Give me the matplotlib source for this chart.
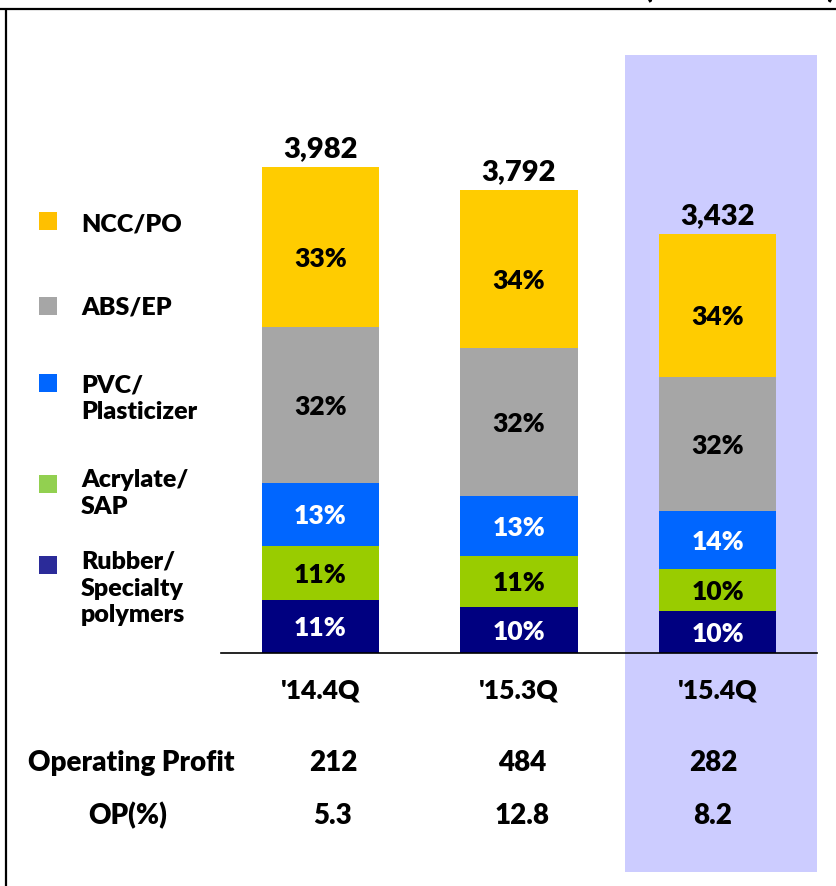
import matplotlib
matplotlib.use('Agg')
import matplotlib.pyplot as plt
import matplotlib.transforms as mtransforms
from matplotlib.patches import Rectangle

W, H = 837, 886

plt.rcParams['font.family'] = ['Lato', 'DejaVu Sans']
plt.rcParams['font.weight'] = 'heavy'

# data
quarters = ["'14.4Q", "'15.3Q", "'15.4Q"]
sales = [3982, 3792, 3432]
segments = ['Rubber/\nSpecialty\npolymers', 'Acrylate/\nSAP', 'PVC/\nPlasticizer', 'ABS/EP', 'NCC/PO']
share_rubber = [11, 10, 10]
share_acrylate = [11, 11, 10]
share_pvc = [13, 13, 14]
share_abs = [32, 32, 32]
share_ncc = [33, 34, 34]
shares = [share_rubber, share_acrylate, share_pvc, share_abs, share_ncc]
op_profit = [212, 484, 282]
op_margin = [5.3, 12.8, 8.2]

bar_colors = ['#000080', '#99CC00', '#0066FF', '#A6A6A6', '#FFCC00']
legend_colors = ['#2B2B99', '#92D050', '#0066FF', '#A6A6A6', '#FFC000']
label_colors = ['white', 'black', 'white', 'black', 'black']


def px_rect(left, top, right, bottom):
    """Axes rect in figure fractions from pixel box (origin top-left)."""
    return [left / W, 1 - bottom / H, (right - left) / W, (bottom - top) / H]


fig = plt.figure(figsize=(W / 100, H / 100), dpi=100)

# background layer in pixel coords
bg = fig.add_axes([0, 0, 1, 1])
bg.set_xlim(0, W)
bg.set_ylim(H, 0)
bg.axis('off')
bg.set_zorder(0)

bg.add_patch(Rectangle((625, 55), 192, 817, facecolor='#CCCCFF', edgecolor='none'))
bg.plot([6.5, 6.5], [9, H], color='black', lw=1.6, solid_capstyle='butt')
bg.plot([0, W], [9, 9], color='black', lw=1.6, solid_capstyle='butt')
# unit note sits above the slide crop, only the bracket tails show
bg.text(740, -2, '(Unit: KRW bn)', ha='center', va='baseline', fontsize=20, clip_on=False)

# bar chart
ax = fig.add_axes(px_rect(221, 55, 817, 653))
ax.set_zorder(2)
ax.patch.set_visible(False)
ax.set_xlim(-0.5, 2.5)
ax.set_ylim(0, 4900)
for s in ['top', 'left', 'right']:
    ax.spines[s].set_visible(False)
ax.spines['bottom'].set_linewidth(1.2)
ax.set_xticks([])
ax.set_yticks([])

x = list(range(len(quarters)))
bottom = [0.0] * len(quarters)
for k, share in enumerate(shares):
    vals = [sales[i] * share[i] / 100 for i in x]
    ax.bar(x, vals, 0.59, bottom=bottom, color=bar_colors[k], linewidth=0)
    for i in x:
        ax.annotate(f'{share[i]}%', xy=(i, bottom[i] + vals[i] / 2),
                    xytext=(0, -10 if k == 4 else 0), textcoords='offset pixels',
                    ha='center', va='center_baseline', fontsize=19,
                    color=label_colors[k])
    bottom = [bottom[i] + vals[i] for i in x]

for i in x:
    ax.annotate(f'{sales[i]:,}', xy=(i, sales[i]), xytext=(0, 10),
                textcoords='offset pixels', ha='center', va='baseline', fontsize=21)

trans = mtransforms.blended_transform_factory(ax.transData, bg.transData)
for i in x:
    ax.text(i, 699, quarters[i], transform=trans, ha='center', va='baseline', fontsize=19)

# table below the chart
bg.text(131, 771, 'Operating Profit', ha='center', va='baseline', fontsize=20)
bg.text(128, 824, 'OP(%)', ha='center', va='baseline', fontsize=20)
col_x = [333, 522, 713]
for i in x:
    bg.text(col_x[i], 771, f'{op_profit[i]}', ha='center', va='baseline', fontsize=20)
    bg.text(col_x[i], 824, f'{op_margin[i]}', ha='center', va='baseline', fontsize=20)

# legend on the left
box_y = [565, 484, 383, 306, 221]
text_y = [569, 487, 392, 315, 231]
for k, name in enumerate(segments):
    bg.add_patch(Rectangle((39, box_y[k] - 9), 18, 18, facecolor=legend_colors[k], edgecolor='none'))
    for j, line in enumerate(name.split('\n')):
        bg.text(81, text_y[k] + j * 26.5, line, ha='left', va='baseline', fontsize=18)

fig.savefig('out.png', dpi=100)
